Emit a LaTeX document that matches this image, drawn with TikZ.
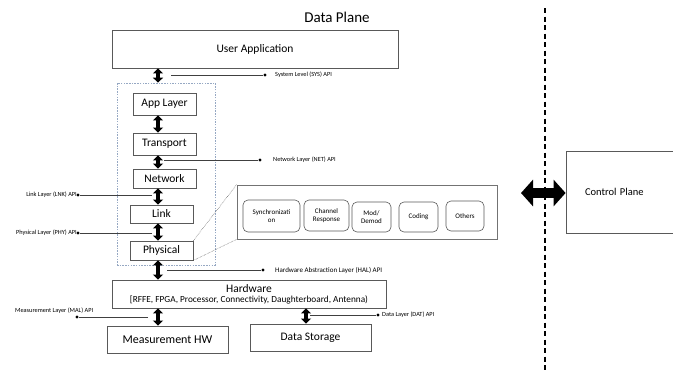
\documentclass[tikz,border=0pt]{standalone}
\usepackage{fontspec}
\setmainfont{Carlito}
\usetikzlibrary{arrows.meta}
\begin{document}
\begin{tikzpicture}[x=1pt,y=-1pt,
  box/.style={draw=black!65,line width=0.8pt,fill=white,inner sep=1pt,align=center,font=\fontsize{11.5}{13}\selectfont},
  rbox/.style={draw=black!65,line width=0.6pt,rounded corners=5pt,align=center,inner sep=1pt,font=\fontsize{7}{8.5}\selectfont},
  barrow/.style={line width=3.8pt,{Triangle[length=5pt,width=10pt]}-{Triangle[length=5pt,width=10pt]}},
  apiline/.style={line width=0.5pt,black!75},
  apidot/.style={circle,fill=black,inner sep=0pt,minimum size=3.2pt},
  apitxt/.style={inner sep=1pt,font=\fontsize{6.3}{7}\selectfont},
  zoomline/.style={densely dotted,line width=0.5pt,black!70}]
\useasboundingbox (0,0) rectangle (673,373);
\clip (0,0) rectangle (673,373);
% title
\node[font=\fontsize{15}{17}\selectfont] (title) at (337,17) {Data Plane};
% divider
\coordinate (dtop) at (545,8);
\coordinate (dbot) at (545,373);
\draw[line width=1.4pt,dash pattern=on 5pt off 3.5pt] (dtop) -- (dbot);
% axis
\coordinate (axis) at (158,0);
\coordinate (axis2) at (306,0);
% boxes
\node[box,minimum width=286,minimum height=38] (ua) at (255,49) {User Application};
\node[draw={rgb,255:red,150;green,168;blue,195},dash pattern=on 1.5pt off 1.2pt,line width=0.7pt,minimum width=98,minimum height=182,inner sep=0pt] (grp) at (166,174) {};
\node[box,minimum width=63,minimum height=22] (app) at (164.5,104) {App Layer};
\node[box,minimum width=63,minimum height=22] (trans) at (164.5,144) {Transport};
\node[box,minimum width=63,minimum height=19] (net) at (164.5,178.5) {Network};
\node[box,minimum width=63,minimum height=18] (link) at (161.5,214) {Link};
\node[box,minimum width=63,minimum height=19] (phy) at (161.5,250.5) {Physical};
\node[box,minimum width=274,minimum height=28,inner sep=0pt,font=\fontsize{9.3}{11}\selectfont] (hw) at (249,294) {{\fontsize{11.5}{12}\selectfont Hardware}\\[-1pt][RFFE, FPGA, Processor, Connectivity, Daughterboard, Antenna)};
\node[box,minimum width=121,minimum height=27,font=\fontsize{12}{14}\selectfont] (mhw) at (167.5,339.5) {Measurement HW};
\node[box,minimum width=121,minimum height=27] (ds) at (310.5,337.5) {Data Storage};
% panel
\node[draw=black!55,line width=0.7pt,minimum width=260,minimum height=54,inner sep=0pt] (panel) at (367,212) {};
\node[rbox,minimum width=57,minimum height=32] (sync) at (271.5,216) {Synchronizati\\on};
\node[rbox,minimum width=45,minimum height=31] (chan) at (326.5,215.5) {Channel\\Response};
\node[rbox,minimum width=39,minimum height=30] (mod) at (371.5,217) {Mod/\\Demod};
\node[rbox,minimum width=39,minimum height=30] (cod) at (418.5,217) {Coding};
\node[rbox,minimum width=38,minimum height=30] (oth) at (465,216) {Others};
\draw[zoomline] (phy.north east) -- (panel.north west);
\draw[zoomline] (phy.south east) -- (panel.south west);
% control plane
\node[box,minimum width=130,minimum height=82,inner sep=0pt,font=\fontsize{10.5}{12}\selectfont,text width=128pt,align=left] (ctrl) at (631,192) {\hspace*{18pt}Control Plane};
\coordinate (cpl) at (521,193);
\draw[line width=10pt,{Triangle[length=12pt,width=26pt]}-{Triangle[length=12pt,width=26pt]}] (cpl) -- (ctrl.west |- cpl);
% vertical block arrows
\draw[barrow] (ua.south -| axis) -- (grp.north -| axis);
\draw[barrow] (app.south -| axis) -- (trans.north -| axis);
\draw[barrow] (trans.south -| axis) -- (net.north -| axis);
\draw[barrow] (net.south -| axis) -- (link.north -| axis);
\draw[barrow] (link.south -| axis) -- (phy.north -| axis);
\draw[barrow] (phy.south -| axis) -- (hw.north -| axis);
\draw[barrow] (hw.south -| axis) -- (mhw.north -| axis);
\draw[barrow] (hw.south -| axis2) -- (ds.north -| axis2);
% API labels
\coordinate (sysA) at (171,75); \node[apidot] (sysD) at (265,75) {};
\draw[apiline] (sysA) -- (sysD);
\node[apitxt,anchor=west] (sysT) at (274,75) {System Level (SYS) API};
\coordinate (netA) at (164,160); \node[apidot] (netD) at (260,160) {};
\draw[apiline] (netA) -- (netD);
\node[apitxt,anchor=west] (netT) at (272,160) {Network Layer (NET) API};
\coordinate (lnkA) at (152,195); \node[apidot] (lnkD) at (78,195) {};
\draw[apiline] (lnkA) -- (lnkD);
\node[apitxt,anchor=east] (lnkT) at (78,195) {Link Layer (LNK) API};
\coordinate (phyA) at (152,233); \node[apidot] (phyD) at (78,233) {};
\draw[apiline] (phyA) -- (phyD);
\node[apitxt,anchor=east] (phyT) at (78,233) {Physical Layer (PHY) API};
\coordinate (halA) at (167,270); \node[apidot] (halD) at (263,270) {};
\draw[apiline] (halA) -- (halD);
\node[apitxt,anchor=west,font=\fontsize{7}{8}\selectfont] (halT) at (274,270) {Hardware Abstraction Layer (HAL) API};
\coordinate (malA) at (148,317); \node[apidot] (malD) at (77,317) {};
\draw[apiline] (malA) -- (malD);
\node[apitxt,anchor=west] (malT) at (14,311) {Measurement Layer (MAL) API};
\coordinate (datA) at (310,315); \node[apidot] (datD) at (378,315) {};
\draw[apiline] (datA) -- (datD);
\node[apitxt,anchor=west] (datT) at (381,315) {Data Layer (DAT) API};
\end{tikzpicture}
\end{document}
